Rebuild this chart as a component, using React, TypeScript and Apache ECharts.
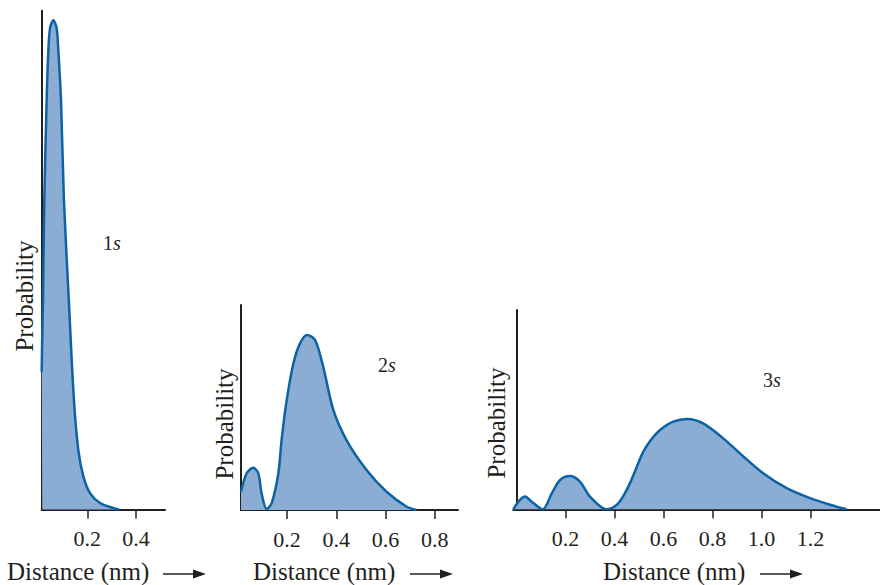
import React, { useEffect, useRef } from "react";
import * as echarts from "echarts";

// 1s radial probability (distance in nm, relative probability)
const r1s = [0.0127, 0.015, 0.018, 0.0234, 0.033, 0.04, 0.047, 0.0604, 0.074, 0.081, 0.092, 0.104, 0.124, 0.145, 0.163, 0.184, 0.211, 0.252, 0.306, 0.33];
const p1s = [27.6, 35, 42, 62, 82, 92, 96.5, 98.1, 96.5, 92, 82, 62, 42, 22, 11.9, 6.6, 3.3, 1.3, 0.3, 0];

// 2s
const r2s = [0.0134, 0.0365, 0.063, 0.0836, 0.097, 0.1176, 0.138, 0.165, 0.178, 0.199, 0.226, 0.253, 0.282, 0.314, 0.347, 0.388, 0.442, 0.523, 0.604, 0.686, 0.726];
const p2s = [8.9, 17.9, 20.6, 17.9, 8.1, 0.5, 3.3, 17.9, 34, 53.7, 71.5, 81.3, 85.4, 82.9, 69.9, 48.8, 34, 19.5, 8.9, 1.6, 0];

// 3s
const r3s = [-0.013, 0.014, 0.035, 0.062, 0.107, 0.144, 0.178, 0.218, 0.259, 0.3, 0.368, 0.409, 0.44, 0.463, 0.49, 0.518, 0.55, 0.586, 0.64, 0.697, 0.762, 0.844, 0.926, 1.007, 1.103, 1.198, 1.28, 1.348];
const p3s = [0, 4.7, 6.4, 3.8, 0, 8, 14.7, 16.7, 13.9, 6.4, 0, 2.2, 7.5, 13, 21, 28.9, 35, 39.8, 44, 45.3, 43.1, 35.6, 26.5, 18.1, 10.6, 5.6, 2.3, 0];

const ticks1 = [0.2, 0.4];
const ticks2 = [0.2, 0.4, 0.6, 0.8];
const ticks3 = [0.2, 0.4, 0.6, 0.8, 1.0, 1.2];

const orbitalLabels = ["1", "2", "3"];
const yTitle = "Probability";
const xTitle = "Distance (nm)";

const LINE = "#0b63a5";
const FILL = "#8badd4";
const AXIS = "#231f20";
const FONT = "'Liberation Serif', 'DejaVu Serif', serif";

export default function App() {
  const ref = useRef<HTMLDivElement>(null);

  useEffect(() => {
    if (!ref.current) return;
    const chart = echarts.init(ref.current, null, { renderer: "svg" });

    const grids = [
      { left: 41.7, top: 10.7, width: 123.3, height: 498.8 },
      { left: 241, top: 305, width: 217, height: 205 },
      { left: 513.3, top: 310, width: 366.7, height: 199.3 },
    ];
    const xr = [
      [0.0127, 0.519, ticks1],
      [0.0134, 0.894, ticks2],
      [-0.013, 1.484, ticks3],
    ] as const;
    const datas = [
      r1s.map((r, i) => [r, p1s[i]]),
      r2s.map((r, i) => [r, p2s[i]]),
      r3s.map((r, i) => [r, p3s[i]]),
    ];

    const xAxis = xr.map(([min, max, t], i) => ({
      type: "value",
      gridIndex: i,
      min,
      max,
      axisLine: { show: true, lineStyle: { color: AXIS, width: 2 } },
      axisTick: { show: true, customValues: t as any, length: 9, lineStyle: { color: AXIS, width: 1.5 } },
      axisLabel: {
        show: true,
        customValues: t as any,
        formatter: (v: number) => v.toFixed(1),
        fontFamily: FONT,
        fontSize: 22,
        color: AXIS,
        margin: 18,
      },
      splitLine: { show: false },
    }));
    const yAxis = grids.map((_, i) => ({
      type: "value",
      gridIndex: i,
      min: 0,
      max: 100,
      axisLine: { show: true, lineStyle: { color: AXIS, width: 2 } },
      axisTick: { show: false },
      axisLabel: { show: false },
      splitLine: { show: false },
    }));
    const series = datas.map((d, i) => ({
      type: "line",
      xAxisIndex: i,
      yAxisIndex: i,
      data: d,
      smooth: 0.3,
      showSymbol: false,
      lineStyle: { color: LINE, width: 2.5 },
      areaStyle: { color: FILL, opacity: 1 },
      z: 1,
    }));

    const probPos = [
      [24, 296],
      [224, 424],
      [496, 423],
    ];
    const orbPos = [
      [112, 243],
      [387, 365],
      [772, 380],
    ];
    const distPos = [
      [7, 163],
      [253, 410],
      [603, 760],
    ];

    const graphic: any[] = [];
    probPos.forEach(([x, y]) =>
      graphic.push({
        type: "text",
        x,
        y,
        rotation: Math.PI / 2,
        style: { text: yTitle, font: `25px ${FONT}`, fill: AXIS, align: "center", verticalAlign: "middle" },
      })
    );
    orbPos.forEach(([x, y], i) =>
      graphic.push({
        type: "text",
        x,
        y,
        style: {
          text: `${orbitalLabels[i]}{i|s}`,
          font: `20px ${FONT}`,
          fill: AXIS,
          align: "center",
          verticalAlign: "middle",
          rich: { i: { fontStyle: "italic", fontSize: 20, fontFamily: FONT, fill: AXIS } },
        },
      })
    );
    distPos.forEach(([x, ax]) => {
      graphic.push({
        type: "text",
        x,
        y: 571,
        style: { text: xTitle, font: `25px ${FONT}`, fill: AXIS, align: "left", verticalAlign: "middle" },
      });
      graphic.push({
        type: "line",
        shape: { x1: ax, y1: 574, x2: ax + 34, y2: 574 },
        style: { stroke: AXIS, lineWidth: 1.5 },
      });
      graphic.push({
        type: "polygon",
        shape: { points: [[ax + 30, 569.5], [ax + 43, 574], [ax + 30, 578.5]] },
        style: { fill: AXIS },
      });
    });

    chart.setOption({
      animation: false,
      backgroundColor: "#ffffff",
      grid: grids,
      xAxis,
      yAxis,
      series,
      graphic,
    } as any);

    return () => chart.dispose();
  }, []);

  return <div ref={ref} style={{ position: "fixed", left: 0, top: 0, width: 880, height: 585 }} />;
}
